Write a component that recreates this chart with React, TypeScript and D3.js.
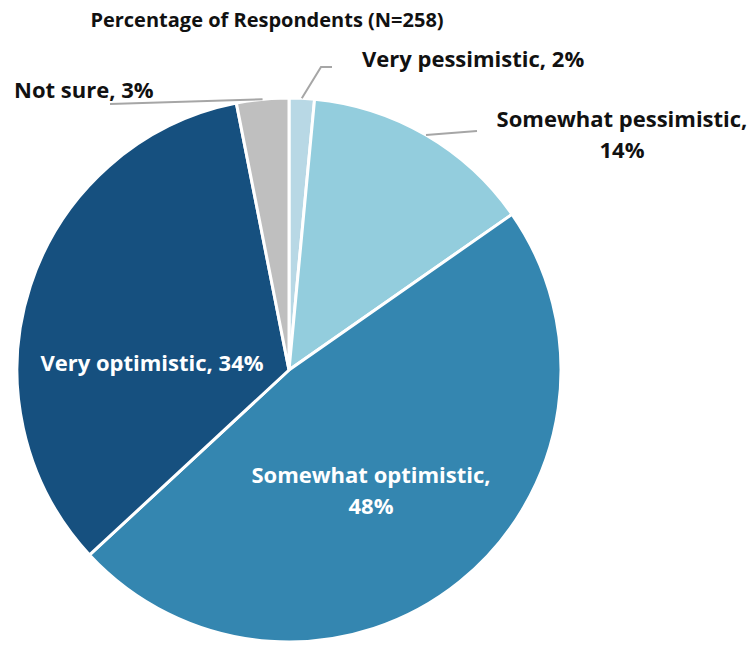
import React from "react";
import * as d3 from "d3";

const categories = ["Very pessimistic", "Somewhat pessimistic", "Somewhat optimistic", "Very optimistic", "Not sure"];
const values = [1.5, 13.8, 47.8, 33.8, 3.1];
const labels = ["2%", "14%", "48%", "34%", "3%"];
const colors = ["#b8d8e5", "#93cddd", "#3486b0", "#16507f", "#bfbfbf"];
const title = "Percentage of Respondents (N=258)";

const W = 752, H = 645;
const cx = 289, cy = 370, R = 272;
const FONT = "'Open Sans', Lato, sans-serif";

export default function App() {
  const pie = d3.pie<number>().sort(null).value((d) => d)(values);
  const arc = d3.arc<d3.PieArcDatum<number>>().innerRadius(0).outerRadius(R);
  const pt = (a: number, r: number) => [cx + r * Math.sin(a), cy - r * Math.cos(a)];
  const mid = (i: number) => (pie[i].startAngle + pie[i].endAngle) / 2;

  const vp = pt(mid(0), R);
  const sp = pt(mid(1), R);
  const ns = pt(mid(4), R);

  const ts: React.CSSProperties = { fontFamily: FONT, fontWeight: 700 };

  return (
    <svg width={W} height={H} style={{ position: "absolute", left: 0, top: 0 }}>
      <text x={267} y={27} textAnchor="middle" fontSize={20} style={ts} fill="#111">{title}</text>
      <g transform={`translate(${cx},${cy})`}>
        {pie.map((p, i) => (
          <path key={categories[i]} d={arc(p) || ""} fill={colors[i]} stroke="#fff" strokeWidth={3} />
        ))}
      </g>
      {/* leader lines */}
      <polyline points={`${vp[0]},${vp[1]} ${321},${67} ${332},${67}`} fill="none" stroke="#a6a6a6" strokeWidth={2} />
      <polyline points={`${sp[0]},${sp[1]} ${477},${131}`} fill="none" stroke="#a6a6a6" strokeWidth={2} />
      <polyline points={`${ns[0]},${ns[1]} ${110},${104}`} fill="none" stroke="#a6a6a6" strokeWidth={2} />

      <text x={362} y={67} fontSize={22} style={ts} fill="#111">{`${categories[0]}, ${labels[0]}`}</text>
      <text x={622} y={127} textAnchor="middle" fontSize={22} style={ts} fill="#111">
        <tspan x={622}>{`${categories[1]},`}</tspan>
        <tspan x={622} dy={31}>{labels[1]}</tspan>
      </text>
      <text x={14} y={98} fontSize={22} style={ts} fill="#111">{`${categories[4]}, ${labels[4]}`}</text>
      <text x={152} y={371} textAnchor="middle" fontSize={22} style={ts} fill="#fff">{`${categories[3]}, ${labels[3]}`}</text>
      <text x={371} y={483} textAnchor="middle" fontSize={22} style={ts} fill="#fff">
        <tspan x={371}>{`${categories[2]},`}</tspan>
        <tspan x={371} dy={31}>{labels[2]}</tspan>
      </text>
    </svg>
  );
}
